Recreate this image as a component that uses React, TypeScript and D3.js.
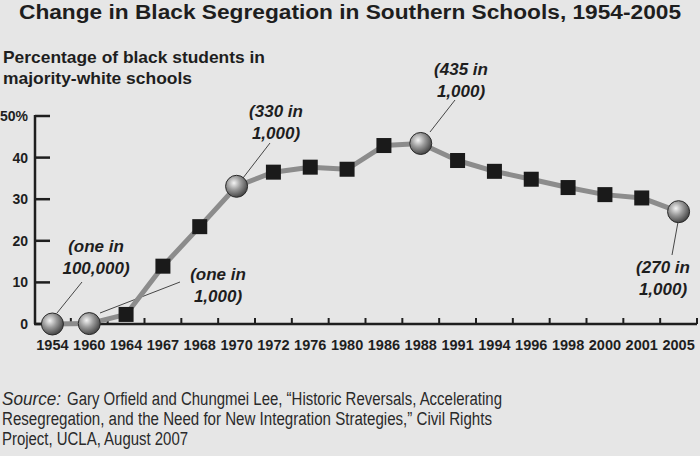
import React from 'react';
import * as d3 from 'd3';

const years = ['1954', '1960', '1964', '1967', '1968', '1970', '1972', '1976', '1980', '1986', '1988', '1991', '1994', '1996', '1998', '2000', '2001', '2005'];
const values = [0, 0.1, 2.3, 13.9, 23.4, 33.1, 36.5, 37.7, 37.2, 42.9, 43.4, 39.3, 36.7, 34.8, 32.8, 31.1, 30.3, 27.0];
const highlightedYears = ['1954', '1960', '1970', '1988', '2005'];
const yTicks = [0, 10, 20, 30, 40, 50];
const annotationYears = ['1954', '1960', '1970', '1988', '2005'];
const annotationTexts = [
  ['(one in', '100,000)'],
  ['(one in', '1,000)'],
  ['(330 in', '1,000)'],
  ['(435 in', '1,000)'],
  ['(270 in', '1,000)'],
];
const titleText = 'Change in Black Segregation in Southern Schools, 1954-2005';
const yTitleLines = ['Percentage of black students in', 'majority-white schools'];
const sourceLabel = 'Source:';
const sourceLines = [
  'Gary Orfield and Chungmei Lee, \u201cHistoric Reversals, Accelerating',
  'Resegregation, and the Need for New Integration Strategies,\u201d Civil Rights',
  'Project, UCLA, August 2007',
];

// layout for annotations: text center, first baseline, leader end point, leader start point
const annotationLayout = [
  { tx: 96, ty: 252, lx: 82, ly: 282, sx: 57, sy: 313 },
  { tx: 218, ty: 280, lx: 180, ly: 282, sx: 100, sy: 313 },
  { tx: 276, ty: 117, lx: 270, ly: 143, sx: 243, sy: 178 },
  { tx: 461, ty: 75, lx: 455, ly: 100, sx: 430, sy: 132 },
  { tx: 663, ty: 273, lx: 672, ly: 255, sx: 678, sy: 222 },
];
const yTitleWidths = [262, 189];
const sourceLayout = [
  { x: 67, w: 435 },
  { x: 2, w: 490 },
  { x: 2, w: 186 },
];

export default function App() {
  const W = 700;
  const H = 456;
  const x = d3.scaleBand<string>().domain(years).range([34, 697]);
  const y = d3.scaleLinear().domain([0, 50]).range([324, 116]);
  const cx = (yr: string) => (x(yr) as number) + x.bandwidth() / 2;
  const line = d3
    .line<number>()
    .x((_, i) => cx(years[i]))
    .y((d) => y(d));
  const font = "'Liberation Sans', Arial, Helvetica, sans-serif";
  const ink = '#1e1e1e';

  return (
    <svg
      width={W}
      height={H}
      style={{ position: 'absolute', left: 0, top: 0, display: 'block' }}
      fontFamily={font}
    >
      <defs>
        <radialGradient id="ball" cx="38%" cy="35%" r="70%">
          <stop offset="0%" stopColor="#f4f4f4" />
          <stop offset="45%" stopColor="#9a9a9a" />
          <stop offset="100%" stopColor="#3c3c3c" />
        </radialGradient>
      </defs>
      <rect x={0} y={0} width={W} height={H} fill="#e6e6e6" />

      <text x={19} y={19} fontSize={20} fontWeight="bold" fill={ink} textLength={662} lengthAdjust="spacingAndGlyphs">
        {titleText}
      </text>

      {yTitleLines.map((t, i) => (
        <text
          key={i}
          x={3}
          y={63 + i * 21}
          fontSize={17}
          fontWeight="bold"
          fill={ink}
          textLength={yTitleWidths[i]}
          lengthAdjust="spacingAndGlyphs"
        >
          {t}
        </text>
      ))}

      {/* Y axis */}
      <line x1={35} x2={35} y1={y(50) - 1} y2={y(0)} stroke={ink} strokeWidth={2.5} />
      {yTicks.map((t) => (
        <g key={t}>
          <line x1={35} x2={50} y1={y(t)} y2={y(t)} stroke={ink} strokeWidth={2.5} />
          <text x={28} y={y(t) + 5} textAnchor="end" fontSize={14} fontWeight="bold" fill={ink}>
            {t === 50 ? '50%' : String(t)}
          </text>
        </g>
      ))}

      {/* X axis */}
      <line x1={34} x2={697} y1={y(0)} y2={y(0)} stroke={ink} strokeWidth={2.5} />
      {years.slice(1).map((yr) => (
        <line key={yr} x1={x(yr) as number} x2={x(yr) as number} y1={y(0) - 6} y2={y(0)} stroke={ink} strokeWidth={2} />
      ))}
      <line x1={697} x2={697} y1={y(0) - 6} y2={y(0)} stroke={ink} strokeWidth={2} />
      {years.map((yr) => (
        <text key={yr} x={cx(yr)} y={350} textAnchor="middle" fontSize={14.5} fontWeight="bold" fill={ink}>
          {yr}
        </text>
      ))}

      {/* leader lines */}
      {annotationYears.map((yr, i) => {
        const a = annotationLayout[i];
        return <line key={yr} x1={a.sx} y1={a.sy} x2={a.lx} y2={a.ly} stroke="#333" strokeWidth={0.9} />;
      })}

      {/* data line */}
      <path d={line(values) || ''} fill="none" stroke="#8c8c8c" strokeWidth={5} strokeLinejoin="round" />

      {/* markers */}
      {years.map((yr, i) =>
        highlightedYears.includes(yr) ? (
          <circle key={yr} cx={cx(yr)} cy={y(values[i])} r={11} fill="url(#ball)" stroke="#2a2a2a" strokeWidth={1} />
        ) : (
          <rect key={yr} x={cx(yr) - 7.5} y={y(values[i]) - 7.5} width={15} height={15} fill="#1a1a1a" />
        )
      )}

      {/* annotations */}
      {annotationYears.map((yr, i) => {
        const a = annotationLayout[i];
        return (
          <text key={yr} textAnchor="middle" fontSize={17} fontWeight="bold" fontStyle="italic" fill={ink}>
            {annotationTexts[i].map((t, j) => (
              <tspan key={j} x={a.tx} y={a.ty + j * 21.5}>
                {t}
              </tspan>
            ))}
          </text>
        );
      })}

      {/* source */}
      <text x={2} y={405} fontSize={18} fontStyle="italic" fill="#2a2a2a" textLength={59} lengthAdjust="spacingAndGlyphs">
        {sourceLabel}
      </text>
      {sourceLines.map((l, i) => (
        <text
          key={i}
          x={sourceLayout[i].x}
          y={405 + i * 20}
          fontSize={18}
          fill="#2a2a2a"
          textLength={sourceLayout[i].w}
          lengthAdjust="spacingAndGlyphs"
        >
          {l}
        </text>
      ))}
    </svg>
  );
}
